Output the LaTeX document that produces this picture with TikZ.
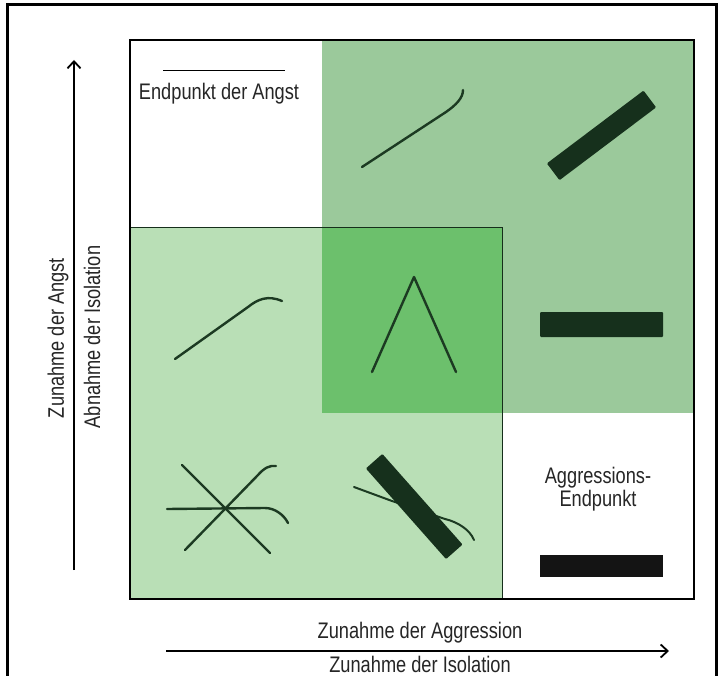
\documentclass[tikz,border=0pt]{standalone}
\usepackage{fontspec}
\setmainfont{Liberation Sans}[FakeStretch=0.81]
\usetikzlibrary{arrows.meta}
\definecolor{greenA}{RGB}{155,201,155}
\definecolor{greenB}{RGB}{185,223,182}
\definecolor{greenC}{RGB}{108,192,108}
\definecolor{ink}{RGB}{28,58,34}
\definecolor{barink}{RGB}{22,48,28}
\begin{document}
\begin{tikzpicture}[x=1pt,y=-1pt,
  lbl/.style={font=\fontsize{22.5}{26}\selectfont, inner sep=0pt, text=black!85},
  curve/.style={draw=ink, line width=2.4pt, line cap=round, line join=round},
  bar/.style={fill=barink, draw=none, minimum width=121pt, minimum height=21pt, inner sep=0pt, rounded corners=1pt},
  axis/.style={line width=1.8pt, -{Straight Barb[length=7pt,width=13pt,line width=1.8pt]}}]
\useasboundingbox (0,0) rectangle (722,676);
\clip (0,0) rectangle (722,676);
\fill[white] (0,0) rectangle (722,676);
% outer frame
\draw[line width=3pt] (7,690) -- (7,5) -- (716,5) -- (716,690);
% regions
\fill[greenA] (322,40) rectangle (694,413);
\fill[greenB] (130,228) rectangle (502,599);
\fill[greenC] (322,228) rectangle (502,413);
\draw[line width=1pt, draw=ink!80!black] (130,228) -- (502,228) -- (502,599);
\draw[line width=2.6pt] (130,40) rectangle (694,599);
% legend: fear end point
\coordinate (la) at (163,70.5);
\coordinate (lb) at (285,70.5);
\draw[line width=1.5pt] (la) -- (lb);
\node[lbl] (angst) at (219,94) {Endpunkt der Angst};
% strokes
\draw[curve] (362,167) -- (446,112) .. controls (456,105) and (463,98) .. (463,90);
\node[bar, rotate=37] (barA) at (601.5,135.4) {};
\draw[curve] (175,359) -- (248,307) .. controls (258,299) and (268,295) .. (282,301);
\draw[curve] (372,372) -- (414,277) -- (456,372);
\node[bar, minimum width=123pt, minimum height=25pt] (barB) at (601.5,324.5) {};
\draw[curve] (182,465) -- (270,553);
\draw[curve] (185,550) -- (258,475) .. controls (264,468) and (270,465) .. (276,466);
\draw[curve] (167,509) -- (265,508) .. controls (275,508) and (284,515) .. (288,523);
\draw[curve, line width=2pt] (354,487) -- (392,501) -- (445,519) .. controls (458,522) and (470,530) .. (474,540);
\node[bar, rotate=-48.5, minimum height=22pt] (barC) at (414.2,506.5) {};
% aggression end point
\node[lbl] (agg1) at (598,478) {Aggressions-};
\node[lbl] (agg2) at (598,501) {Endpunkt};
\node[bar, fill=black!92, rounded corners=0pt, minimum width=123pt, minimum height=22pt] (barD) at (601.5,566) {};
% axes
\coordinate (xa) at (166,651);
\coordinate (xb) at (669,651);
\draw[axis] (xa) -- (xb);
\node[lbl] (xlab1) at (420,633) {Zunahme der Aggression};
\node[lbl, anchor=base] (xlab2) at (420,672) {Zunahme der Isolation};
\coordinate (ya) at (74,570);
\coordinate (yb) at (74,60);
\draw[axis] (ya) -- (yb);
\node[lbl, rotate=90] (ylab1) at (58,338) {Zunahme der Angst};
\node[lbl, rotate=90] (ylab2) at (92,337) {Abnahme der Isolation};
\end{tikzpicture}
\end{document}
